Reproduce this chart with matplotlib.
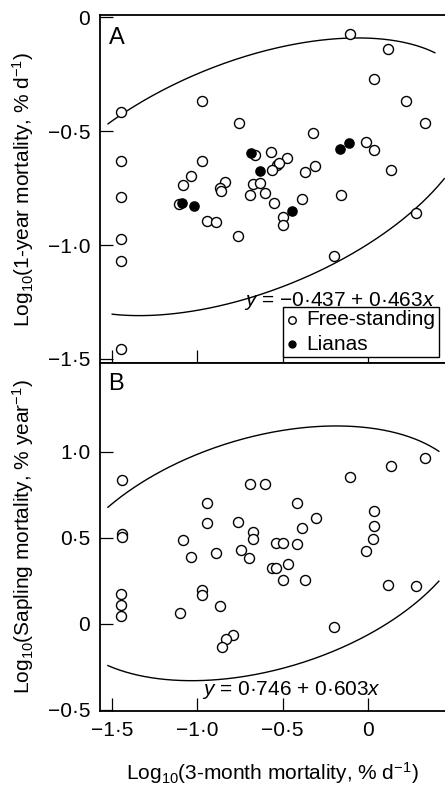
import numpy as np
import matplotlib
matplotlib.use("Agg")
import matplotlib.pyplot as plt

plt.rcParams['font.family'] = 'Liberation Sans'
plt.rcParams['mathtext.fontset'] = 'custom'
plt.rcParams['mathtext.rm'] = 'Liberation Sans'
plt.rcParams['mathtext.it'] = 'Liberation Sans:italic'

# panel A: log10 3-month mortality (x) vs log10 1-year mortality (y)
a_free_x = [-0.106, 0.114, 0.035, 0.221, 0.332, -1.449, -0.975, -0.754, -0.322, -0.012,
            0.033, -1.449, -0.975, -0.662, -0.567, -0.475, -0.536, -0.520, -0.560, -0.311,
            -0.372, 0.133, -1.040, -1.082, -0.838, -0.867, -0.861, -0.672, -0.635, -0.694,
            -0.602, -0.551, -0.389, -0.158, -1.449, -1.106, -0.942, -0.889, -0.760, -0.498,
            -0.500, 0.281, -0.198, -1.449, -1.449, -1.449]
a_free_y = [-0.074, -0.140, -0.270, -0.366, -0.464, -0.416, -0.366, -0.464, -0.508, -0.546,
            -0.581, -0.629, -0.629, -0.606, -0.589, -0.619, -0.648, -0.639, -0.670, -0.654,
            -0.678, -0.669, -0.698, -0.737, -0.724, -0.749, -0.764, -0.730, -0.726, -0.780,
            -0.773, -0.815, -0.799, -0.781, -0.789, -0.818, -0.893, -0.900, -0.960, -0.878,
            -0.913, -0.861, -1.046, -0.973, -1.068, -1.458]
a_liana_x = [-0.164, -0.110, -0.687, -0.633, -1.092, -1.018, -0.447]
a_liana_y = [-0.576, -0.552, -0.596, -0.676, -0.815, -0.830, -0.852]

# panel B: log10 3-month mortality (x) vs log10 sapling mortality (y)
b_x = [-1.443, -0.106, 0.133, 0.334, -0.689, -0.604, -0.942, -0.416, 0.033, -0.305,
       -0.943, -0.762, -0.389, 0.033, -1.443, -1.443, -0.672, -0.672, 0.031, -1.082,
       -0.537, -0.496, -0.418, -0.014, -1.039, -0.891, -0.746, -0.696, -0.471, -0.560,
       -0.542, -0.500, -0.371, 0.114, 0.283, -0.975, -0.975, -1.449, -1.449, -1.449,
       -0.866, -1.100, -0.198, -0.789, -0.830, -0.857]
b_y = [0.836, 0.851, 0.920, 0.963, 0.815, 0.815, 0.701, 0.705, 0.657, 0.618,
       0.588, 0.591, 0.559, 0.566, 0.524, 0.505, 0.531, 0.494, 0.491, 0.485,
       0.470, 0.470, 0.464, 0.425, 0.389, 0.411, 0.430, 0.384, 0.347, 0.325,
       0.325, 0.257, 0.257, 0.228, 0.218, 0.199, 0.167, 0.174, 0.108, 0.047,
       0.105, 0.062, -0.020, -0.063, -0.089, -0.135]

# confidence ellipses: centre, half-extents, correlation
a_ellipse = dict(cx=-0.70, cy=-0.70, hx=1.32, hy=0.61, r=0.485)
b_ellipse = dict(cx=-0.61, cy=0.41, hx=1.22, hy=0.74, r=0.347)

x_ticks = [-1.5, -1.0, -0.5, 0.0]
x_ticklabels = ['\u22121\u00b75', '\u22121\u00b70', '\u22120\u00b75', '0']
a_yticks = [0.0, -0.5, -1.0, -1.5]
a_yticklabels = ['0', '\u22120\u00b75', '\u22121\u00b70', '\u22121\u00b75']
b_yticks = [1.0, 0.5, 0.0, -0.5]
b_yticklabels = ['1\u00b70', '0\u00b75', '0', '\u22120\u00b75']

FS = 15


def draw_ellipse(ax, e, up_lim, low_lim):
    # upper arc (t in 0..pi) and lower arc, each cut to its own x range
    for t, (lo, hi) in [(np.linspace(0, np.pi, 400), up_lim),
                        (np.linspace(np.pi, 2 * np.pi, 400), low_lim)]:
        ex = e['cx'] + e['hx'] * np.cos(t)
        ey = e['cy'] + e['hy'] * (e['r'] * np.cos(t) + np.sqrt(1 - e['r'] ** 2) * np.sin(t))
        keep = (ex >= lo) & (ex <= hi)
        ax.plot(ex[keep], ey[keep], color='black', lw=1.0)


def style(ax, yticks, yticklabels):
    ax.set_xlim(-1.57, 0.45)
    ax.set_xticks(x_ticks)
    ax.set_yticks(yticks)
    ax.set_yticklabels(yticklabels)
    ax.tick_params(direction='in', length=9.5, width=0.9, labelsize=FS, pad=7)
    ax.spines['right'].set_visible(False)
    for s in ['left', 'top', 'bottom']:
        ax.spines[s].set_linewidth(1.3)


fig = plt.figure(figsize=(4.45, 7.87), dpi=100)
axA = fig.add_axes([0.2247, 0.5388, 0.7753, 0.4422])
axB = fig.add_axes([0.2247, 0.0966, 0.7753, 0.4422])

# panel A
axA.scatter(a_free_x, a_free_y, s=52, facecolors='white', edgecolors='black',
            linewidths=1.0, zorder=3, label='Free-standing')
axA.scatter(a_liana_x, a_liana_y, s=44, facecolors='black', edgecolors='black',
            linewidths=1.0, zorder=4, label='Lianas')
draw_ellipse(axA, a_ellipse, (-1.53, 0.395), (-1.50, 0.45))
style(axA, a_yticks, a_yticklabels)
axA.set_ylim(-1.518, 0.011)
axA.set_xticklabels([])
axA.text(0.025, 0.965, 'A', transform=axA.transAxes, fontsize=17, ha='left', va='top')
axA.text(0.392, -1.246, '$y$ = \u22120\u00b7437 + 0\u00b7463$x$', fontsize=FS,
         ha='right', va='center')
axA.set_ylabel('Log$_{10}$(1-year mortality, % d$^{\u22121}$)', fontsize=FS)
axA.yaxis.set_label_coords(-0.185, 0.5)
leg = axA.legend(loc='lower right', fontsize=FS, frameon=True, fancybox=False,
                 edgecolor='black', framealpha=1, markerscale=0.75,
                 handlelength=0.6, handletextpad=0.4, borderpad=0.15,
                 labelspacing=0.25, borderaxespad=0.3)
leg.get_frame().set_linewidth(1.0)

# panel B
axB.scatter(b_x, b_y, s=52, facecolors='white', edgecolors='black',
            linewidths=1.0, zorder=3)
draw_ellipse(axB, b_ellipse, (-1.53, 0.415), (-1.53, 0.415))
style(axB, b_yticks, b_yticklabels)
axB.set_ylim(-0.506, 1.516)
axB.set_xticklabels(x_ticklabels)
axB.text(0.025, 0.97, 'B', transform=axB.transAxes, fontsize=17, ha='left', va='top')
axB.text(-0.448, -0.382, '$y$ = 0\u00b7746 + 0\u00b7603$x$', fontsize=FS,
         ha='center', va='center')
axB.set_ylabel('Log$_{10}$(Sapling mortality, % year$^{\u22121}$)', fontsize=FS)
axB.yaxis.set_label_coords(-0.185, 0.5)
axB.set_xlabel('Log$_{10}$(3-month mortality, % d$^{\u22121}$)', fontsize=FS)
axB.xaxis.set_label_coords(0.5, -0.142)

fig.savefig('out.png', dpi=100)
